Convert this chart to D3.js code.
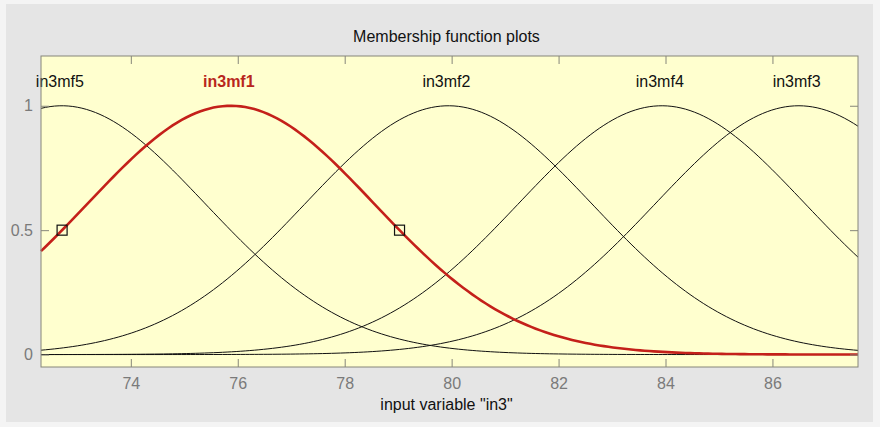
<!DOCTYPE html>
<html>
<head>
<meta charset="utf-8">
<script src="https://cdn.jsdelivr.net/npm/d3@7"></script>
<style>
  html, body { margin: 0; padding: 0; background: #f4f4f4; }
  svg { display: block; font-family: "Liberation Sans", Arial, sans-serif; }
</style>
</head>
<body>
<figure id="mf" style="margin:0"></figure>
<script>
// membership functions of input variable "in3" (gaussmf: sigma, center)
const mfNames = ["in3mf1", "in3mf2", "in3mf3", "in3mf4", "in3mf5"];
const mfCenters = [75.87, 79.94, 86.49, 83.93, 72.71];
const mfSigmas = [2.68, 2.68, 2.68, 2.68, 2.68];
const selectedMf = "in3mf1";

const xRange = [72.32, 87.6];
const yRange = [-0.05, 1.2];
const xTicks = [74, 76, 78, 80, 82, 84, 86];
const yTicks = [0, 0.5, 1];

const width = 880, height = 427;
const box = { left: 41, right: 858, top: 56, bottom: 367 };
const fontSize = 16;

const svg = d3.select("figure#mf")
  .append("svg")
  .attr("width", width)
  .attr("height", height);

// grey figure panel
svg.append("rect")
  .attr("x", 6).attr("y", 4)
  .attr("width", 867).attr("height", 418)
  .attr("fill", "#e5e5e5");

const x = d3.scaleLinear().domain(xRange).range([box.left, box.right]);
const y = d3.scaleLinear().domain(yRange).range([box.bottom, box.top]);

// axes background
svg.append("rect")
  .attr("x", box.left).attr("y", box.top)
  .attr("width", box.right - box.left).attr("height", box.bottom - box.top)
  .attr("fill", "#ffffcf");

const gauss = (v, c, s) => Math.exp(-((v - c) * (v - c)) / (2 * s * s));
const samples = d3.range(0, 181).map(i => xRange[0] + (xRange[1] - xRange[0]) * i / 180);

const line = d3.line()
  .x(d => x(d[0]))
  .y(d => y(d[1]));

const plot = svg.append("g");

// black curves first, selected one on top
const order = mfNames.map((n, i) => i).sort((a, b) =>
  (mfNames[a] === selectedMf) - (mfNames[b] === selectedMf));

order.forEach(i => {
  const pts = samples.map(v => [v, gauss(v, mfCenters[i], mfSigmas[i])]);
  const sel = mfNames[i] === selectedMf;
  plot.append("path")
    .attr("d", line(pts))
    .attr("fill", "none")
    .attr("stroke", sel ? "#c4201a" : "#111")
    .attr("stroke-width", sel ? 2.6 : 1);
});

// half-height markers on the selected curve
const si = mfNames.indexOf(selectedMf);
const half = mfSigmas[si] * Math.sqrt(2 * Math.LN2);
[mfCenters[si] - half, mfCenters[si] + half].forEach(v => {
  plot.append("rect")
    .attr("x", x(v) - 5).attr("y", y(0.5) - 5)
    .attr("width", 10).attr("height", 10)
    .attr("fill", "none")
    .attr("stroke", "#111")
    .attr("stroke-width", 1.2);
});

// labels above each peak
mfNames.forEach((n, i) => {
  const sel = n === selectedMf;
  svg.append("text")
    .attr("x", x(mfCenters[i]) - 2)
    .attr("y", y(1.1) + 6.5)
    .attr("text-anchor", "middle")
    .attr("font-size", fontSize)
    .attr("font-weight", sel ? "bold" : "normal")
    .attr("fill", sel ? "#b8261c" : "#111")
    .text(n);
});

// box and inward ticks
const tickLen = 8;
const axisColor = "#86867a";
svg.append("rect")
  .attr("x", box.left).attr("y", box.top)
  .attr("width", box.right - box.left).attr("height", box.bottom - box.top)
  .attr("fill", "none")
  .attr("stroke", axisColor);

const bottomAxis = d3.axisBottom(x).tickValues(xTicks).tickSize(-tickLen).tickPadding(11);
const topAxis = d3.axisTop(x).tickValues(xTicks).tickSize(-tickLen).tickFormat("");
const leftAxis = d3.axisLeft(y).tickValues(yTicks).tickSize(-tickLen).tickPadding(8)
  .tickFormat(d3.format("~g"));
const rightAxis = d3.axisRight(y).tickValues(yTicks).tickSize(-tickLen).tickFormat("");

const styleAxis = g => {
  g.select(".domain").remove();
  g.selectAll(".tick line").attr("stroke", axisColor);
  g.selectAll(".tick text")
    .attr("fill", "#7a7a7a")
    .attr("font-size", fontSize)
    .attr("font-family", "Liberation Sans, Arial, sans-serif");
};

svg.append("g").attr("transform", `translate(0,${box.bottom})`).call(bottomAxis).call(styleAxis);
svg.append("g").attr("transform", `translate(0,${box.top})`).call(topAxis).call(styleAxis);
svg.append("g").attr("transform", `translate(${box.left},0)`).call(leftAxis).call(styleAxis);
svg.append("g").attr("transform", `translate(${box.right},0)`).call(rightAxis).call(styleAxis);

// title and axis label
svg.append("text")
  .attr("x", (box.left + box.right) / 2 - 3)
  .attr("y", 41.5)
  .attr("text-anchor", "middle")
  .attr("font-size", fontSize)
  .attr("fill", "#111")
  .text("Membership function plots");

svg.append("text")
  .attr("x", (box.left + box.right) / 2 - 3)
  .attr("y", 410)
  .attr("text-anchor", "middle")
  .attr("font-size", fontSize)
  .attr("fill", "#111")
  .text('input variable "in3"');
</script>
</body>
</html>
